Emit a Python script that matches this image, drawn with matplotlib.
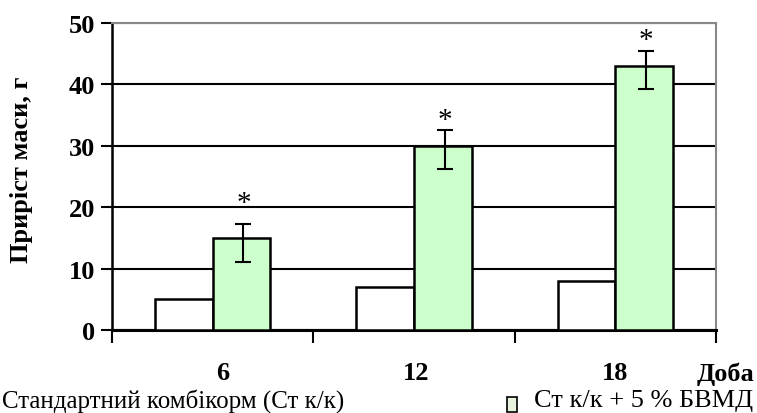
import numpy as np
import matplotlib.pyplot as plt
from matplotlib.patches import Rectangle

plt.rcParams['font.family'] = ['Liberation Serif', 'DejaVu Serif']

days = ['6', '12', '18']
standard = [5, 7, 8]
supplement = [15, 30, 43]
err_low = [4.0, 3.8, 3.7]
err_high = [2.2, 2.5, 2.5]
marks = ['*', '*', '*']
mark_level = [18.5, 32.1, 45.1]
series_names = ['Стандартний комбікорм (Ст к/к)', 'Ст к/к + 5 % БВМД']
ylabel = 'Приріст маси, г'
xunit = 'Доба'

fig = plt.figure(figsize=(7.57, 4.14), dpi=100)
ax = fig.add_axes([112 / 757, 1 - 331 / 414, 604 / 757, 307 / 414])

x = np.arange(len(days))
w = 0.286
ax.bar(x - w / 2, standard, w, color='white', edgecolor='black', linewidth=1.8, zorder=3)
ax.bar(x + w / 2, supplement, w, color='#ccffcc', edgecolor='black', linewidth=1.8, zorder=3)
ax.errorbar(x + w / 2 + 0.01, supplement, yerr=[err_low, err_high], fmt='none',
            ecolor='black', elinewidth=1.5, capsize=5.5, capthick=1.5, zorder=4)
for xi, lv, m in zip(x, mark_level, marks):
    ax.text(xi + w / 2 + 0.01, lv, m, ha='center', va='bottom',
            fontsize=21, zorder=5)

ax.set_xlim(-0.5, len(days) - 0.5)
ax.set_ylim(0, 50)
ax.set_yticks(range(0, 51, 10))
ax.yaxis.grid(True, color='black', linewidth=1.5, zorder=0)
ax.set_axisbelow(True)
ax.set_xticks(np.arange(len(days) + 1) - 0.5)
ax.set_xticklabels([])
ax.tick_params(axis='x', direction='out', length=9, width=1.5)
ax.tick_params(axis='y', direction='out', length=8, width=1.5, labelsize=19, pad=4)
for lab in ax.get_yticklabels():
    lab.set_fontweight('bold')
ax.spines['left'].set_linewidth(1.8)
ax.spines['bottom'].set_linewidth(2.2)
ax.spines['top'].set_color('#888888')
ax.spines['right'].set_color('#888888')
ax.spines['top'].set_linewidth(1.5)
ax.spines['right'].set_linewidth(1.5)

for xi, d, dx in zip(x, days, [0.05, 0.01, 0.0]):
    ax.text(xi + dx, -0.14, d, transform=ax.get_xaxis_transform(), ha='center', va='center',
            fontsize=19, fontweight='bold')
fig.text(754 / 757, 1 - 374 / 414, xunit, ha='right', va='center', fontsize=19, fontweight='bold')

fig.text(22 / 757, 1 - 170 / 414, ylabel, rotation=90, ha='center', va='center',
         fontsize=19, fontweight='bold')

fig.text(2 / 757, 1 - 401 / 414, series_names[0], ha='left', va='center', fontsize=18)
fig.patches.append(Rectangle((507 / 757, 1 - 413 / 414), 10 / 757, 15 / 414,
                             transform=fig.transFigure, facecolor='#e6f2dc',
                             edgecolor='black', linewidth=1.2))
fig.text(534 / 757, 1 - 401 / 414, series_names[1], ha='left', va='center', fontsize=19)

fig.savefig('out.png', dpi=100)
